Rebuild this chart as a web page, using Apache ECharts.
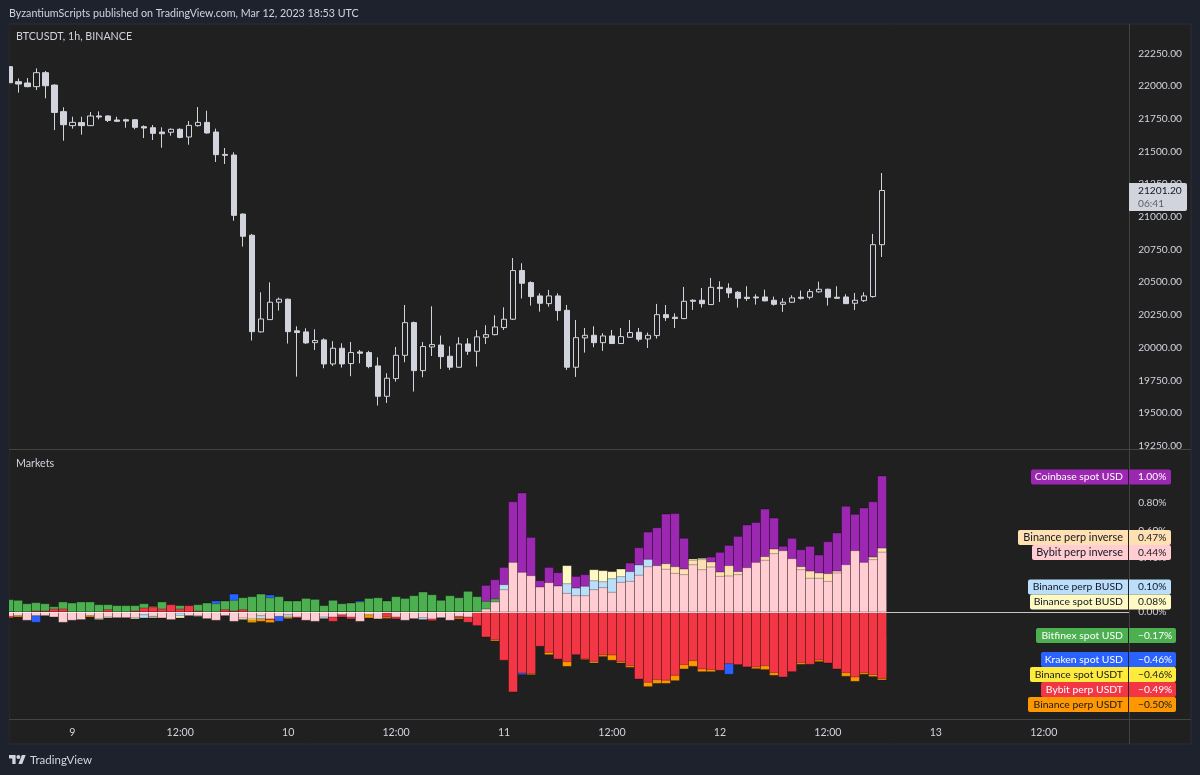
<!DOCTYPE html>
<html>
<head>
<meta charset="utf-8">
<script src="https://cdn.jsdelivr.net/npm/echarts@6/dist/echarts.min.js"></script>
<style>
  html, body { margin: 0; padding: 0; background: #1e222d; }
  #chart { width: 1200px; height: 775px; }
</style>
</head>
<body>
<div id="chart"></div>
<script>
const _ = null;

// hourly bars, [open, close, low, high]
const btcCandles = [
  [22148,22025,22025,22148],[22033,22015,21949,22058],[22023,21995,21990,22061],[21995,22102,21969,22135],[22102,22002,21906,22115],
  [22007,21798,21663,22013],[21804,21704,21582,21837],[21697,21722,21674,21765],[21720,21697,21628,21765],[21697,21771,21694,21801],
  [21771,21763,21745,21806],[21771,21737,21725,21776],[21740,21730,21727,21765],[21742,21732,21681,21750],[21742,21684,21669,21745],
  [21689,21679,21602,21699],[21681,21638,21587,21702],[21648,21635,21528,21684],[21646,21669,21620,21676],[21669,21607,21600,21676],
  [21610,21699,21551,21732],[21697,21722,21689,21839],[21722,21641,21635,21811],[21648,21475,21419,21674],[21477,21470,21404,21526],
  [21472,21011,20970,21493],[21021,20851,20772,21026],[20859,20122,20054,20869],[20120,20219,20115,20423],[20214,20347,20212,20499],
  [20347,20370,20283,20382],[20370,20122,20031,20375],[20128,20115,19778,20163],[20120,20036,20028,20148],[20038,20054,19982,20140],
  [20059,19875,19842,20071],[19875,19995,19860,20049],[19995,19875,19847,20033],[19878,19962,19781,20043],[19967,19957,19880,19982],
  [19962,19855,19842,19975],[19860,19628,19557,19926],[19628,19766,19577,19804],[19763,19941,19740,20005],[19941,20191,19888,20326],
  [20191,19824,19664,20199],[19824,20008,19773,20043],[20005,20023,19936,20316],[20020,19931,19837,20092],[19934,19850,19829,20010],
  [19850,20028,19845,20079],[20028,19972,19944,20071],[19972,20082,19855,20133],[20079,20099,20028,20171],[20099,20158,20094,20247],
  [20153,20217,20135,20308],[20217,20589,20211,20685],[20589,20492,20375,20645],[20497,20390,20321,20507],[20395,20339,20275,20415],
  [20336,20395,20313,20441],[20395,20283,20206,20415],[20285,19850,19829,20326],[19850,20076,19776,20211],[20074,20094,19962,20150],
  [20094,20038,20003,20163],[20038,20089,19975,20110],[20089,20031,20028,20135],[20031,20084,20028,20150],[20079,20115,20074,20211],
  [20117,20064,20046,20150],[20066,20094,19997,20115],[20092,20252,20069,20334],[20252,20229,20204,20326],[20232,20222,20150,20262],
  [20222,20354,20217,20464],[20362,20354,20288,20369],[20362,20336,20306,20456],[20329,20461,20326,20533],[20461,20451,20349,20507],
  [20454,20418,20380,20492],[20423,20377,20306,20433],[20385,20375,20357,20469],[20387,20380,20329,20408],[20387,20357,20354,20443],
  [20362,20331,20321,20390],[20331,20347,20273,20377],[20347,20380,20341,20400],[20385,20377,20367,20436],[20385,20428,20369,20448],
  [20426,20446,20420,20504],[20446,20385,20321,20451],[20385,20377,20375,20469],[20387,20336,20334,20408],[20339,20362,20288,20418],
  [20359,20395,20349,20423],[20390,20787,20382,20869],[20787,21201,20693,21335]
];

// premium of each market in %, one value per bar, _ where it can't be seen
const coinbaseSpotUsd = [
  _,_,_,_,_,_,_,_,_,_, _,_,_,_,_,_,_,_,_,_, _,_,_,_,_,_,_,_,_,_, _,_,_,_,_,_,_,_,_,_, _,_,_,_,_,_,_,_,_,_,
  _,_,_,.196,.238,.328,.811,.875,.549,.23,
  .328,.289,.267,.262,.275,.262,.282,_,.27,.36,
  .473,.588,.62,.721,.725,.542,_,_,.404,.439,
  .49,.556,.64,.659,.757,.691,.483,.542,.458,.483,
  .419,.517,.581,.777,.718,.765,.811,1.00
];
const binancePerpInverse = [
  _,_,_,_,_,_,_,_,_,_, _,_,_,_,_,_,_,_,_,_, _,_,_,_,_,_,_,_,_,_, _,_,_,_,_,_,_,_,_,_, _,_,_,_,_,_,_,_,_,_,
  _,_,_,_,_,_,_,_,_,_, _,_,_,_,_,_,_,_,_,_,
  _,_,_,.355,.333,.316,.38,.385,.368,.294,
  .341,.297,_,_,.407,.463,_,_,.333,.301,
  .287,.282,.301,_,_,_,.404,.47
];
const bybitPerpInverse = [
  -.032,-.027,-.061,-.027,-.027,-.037,-.076,-.061,-.056,-.027,
  -.049,-.037,-.042,-.042,-.042,-.02,-.032,-.044,-.056,-.007,
  -.027,-.027,-.049,-.061,-.027,-.069,-.044,-.051,-.027,-.051,
  -.032,-.02,-.037,-.061,-.069,-.037,-.037,-.02,-.037,-.069,
  -.02,-.051,-.007,-.037,-.061,-.049,-.042,-.051,-.042,-.061,
  -.032,-.037,_,.022,.074,.164,.365,.292,.267,.184,
  .216,.191,.137,.12,.12,.164,.179,.145,.218,.225,
  .27,.333,.341,.314,.284,.275,.348,.311,.331,.262,
  .265,.275,.326,.365,.38,.429,.451,.392,.311,.248,
  .248,.225,.287,.348,.451,.365,.385,.44
];
const binancePerpBusd = [
  _,_,_,_,_,_,_,_,_,_,
  _,_,_,_,_,-.044,-.037,_,_,-.027,
  _,_,_,_,_,_,_,_,-.049,_,
  _,-.037,_,_,_,-.049,_,_,_,_,
  _,_,_,_,_,_,-.056,_,_,_,
  _,_,.017,.054,_,.201,_,_,_,_,
  _,_,.208,.176,.189,.23,.223,.245,.26,.297,
  .346,.387,_,_,_,_,_,_,_,_,
  _,_,_,_,_,_,_,_,_,_,
  _,_,_,_,_,_,_,.10
];
const binanceSpotBusd = [
  _,_,_,_,_,_,_,_,_,_,
  -.056,-.044,_,_,-.051,_,-.044,_,_,-.044,
  _,-.032,_,_,_,_,-.056,_,_,_,
  _,_,_,_,_,_,_,_,_,_, _,_,_,_,_,_,_,_,_,_, _,_,_,_,_,_,_,_,_,_,
  _,_,.341,_,_,.311,.304,.297,.316,_,
  _,_,_,_,_,_,.39,.395,_,_,
  _,_,_,_,_,_,_,_,_,_,
  _,_,_,_,_,_,_,.08
];
const bitfinexSpotUsd = [
  .091,.086,.061,.069,.061,.039,.074,.066,.074,.074,
  .054,.054,.047,.047,.047,.061,.042,.074,_,.047,
  _,.054,.066,.061,.081,.086,.105,.113,.132,.105,
  .113,.081,.081,.1,.093,.047,.086,.061,.066,.074,
  .1,.105,.081,.113,.1,.12,.147,.127,.086,.12,
  .105,.152,.113,.078,.096,_,_,_,_,_,
  _,_,_,_,_,_,_,_,_,_, _,_,_,_,_,_,_,_,_,_, _,_,_,_,_,_,_,_,_,_,
  _,_,_,_,_,_,_,-.17
];
const krakenSpotUsd = [
  _,_,_,-.076,_,_,_,_,_,_,
  _,_,_,_,_,_,_,_,_,_,
  _,_,_,.081,_,.132,_,_,_,.125,
  -.069,_,_,_,_,_,_,_,_,.081,
  _,_,_,_,_,_,_,_,_,_,
  _,_,_,_,_,_,_,-.461,_,_,
  _,_,_,_,_,_,_,_,_,_, _,_,_,_,_,_,_,_,_,_,
  -.458,_,_,_,_,_,_,_,_,_,
  _,_,_,_,_,_,_,-.46
];
const binanceSpotUsdt = [
  _,_,_,_,_,_,_,_,_,_, _,_,_,_,_,_,_,_,_,_,
  _,_,_,_,_,_,_,-.064,_,_,
  _,_,_,_,_,_,_,_,_,_, _,_,_,_,_,_,_,_,_,_, _,_,_,_,_,_,_,_,_,_,
  _,_,_,_,_,_,_,_,_,_, _,_,_,_,_,_,_,_,_,_, _,_,_,_,_,_,_,_,_,_,
  _,_,_,_,_,_,_,-.46
];
const bybitPerpUsdt = [
  -.044,_,_,.007,.007,.022,.022,_,_,_,
  _,.017,_,_,.007,.029,.037,.022,.054,.022,
  .047,.007,_,_,.017,.007,.017,_,_,-.056,
  _,_,-.044,_,_,_,-.069,-.037,-.051,_,
  _,_,-.037,-.051,_,_,_,-.064,_,_,
  -.042,-.076,-.1,-.184,-.203,-.355,-.588,-.449,-.453,-.252,
  -.297,-.346,-.365,-.314,-.346,-.363,-.316,-.316,-.365,-.395,
  -.493,-.517,-.498,-.502,-.466,-.387,-.358,-.419,-.424,-.429,
  -.38,-.387,-.404,-.404,-.395,-.446,-.478,-.439,-.373,-.385,
  -.353,-.375,-.419,-.446,-.478,-.446,-.461,-.49
];
const binancePerpUsdt = [
  _,-.037,_,_,_,_,_,_,_,-.037,
  _,_,_,_,_,_,_,_,_,_,
  _,_,_,_,_,_,_,-.078,-.069,-.078,
  -.051,-.049,_,_,_,_,_,_,_,_,
  -.044,_,-.047,_,_,_,_,_,_,_,
  -.051,_,_,_,-.213,_,_,_,-.461,_,
  -.314,_,-.4,_,-.35,-.375,-.328,-.355,-.375,-.407,
  _,-.549,-.525,-.525,-.505,-.419,-.4,-.439,-.439,_,
  _,_,_,-.417,-.424,-.466,_,_,-.385,_,
  -.365,_,_,-.473,-.51,-.458,-.475,-.5
];

// layer: columns are painted in this fixed order, back to front
const markets = [
  { name: 'Coinbase spot USD',   values: coinbaseSpotUsd,    layer: 3, color: '#9c27b0', text: '#ffffff', size: 10.4, top: 469.5, left: 1031, right: 1171 },
  { name: 'Binance perp inverse', values: binancePerpInverse, layer: 5, color: '#ffe0b2', text: '#131722', size: 10.9, top: 530,   left: 1018, right: 1171 },
  { name: 'Bybit perp inverse',  values: bybitPerpInverse,   layer: 9, color: '#ffcdd2', text: '#131722', size: 10.9, top: 545,   left: 1032, right: 1171 },
  { name: 'Binance perp BUSD',   values: binancePerpBusd,    layer: 6, color: '#bbdefb', text: '#131722', size: 10.4, top: 579.5, left: 1028, right: 1171 },
  { name: 'Binance spot BUSD',   values: binanceSpotBusd,    layer: 4, color: '#fff9c4', text: '#131722', size: 10.4, top: 594.5, left: 1030, right: 1171 },
  { name: 'Bitfinex spot USD',   values: bitfinexSpotUsd,    layer: 7, color: '#4caf50', text: '#ffffff', size: 10.4, top: 628,   left: 1036, right: 1176 },
  { name: 'Kraken spot USD',     values: krakenSpotUsd,      layer: 1, color: '#2962ff', text: '#ffffff', size: 10.4, top: 652,   left: 1041, right: 1176 },
  { name: 'Binance spot USDT',   values: binanceSpotUsdt,    layer: 2, color: '#ffeb3b', text: '#131722', size: 10.4, top: 667,   left: 1030, right: 1176 },
  { name: 'Bybit perp USDT',     values: bybitPerpUsdt,      layer: 8, color: '#f23645', text: '#ffffff', size: 10.4, top: 682,   left: 1041, right: 1176 },
  { name: 'Binance perp USDT',   values: binancePerpUsdt,    layer: 0, color: '#ff9800', text: '#131722', size: 10.4, top: 697,   left: 1028, right: 1176 }
];

// 125 hourly slots, the 9th of March starts at slot 7
const dayLabels = ['9', '10', '11', '12', '13'];
const hours = [];
for (let i = 0; i < 125; i++) {
  const h = i - 7;
  if (h >= 0 && h % 24 === 0) hours.push(dayLabels[h / 24]);
  else if (h >= 0 && h % 12 === 0) hours.push('12:00');
  else hours.push('');
}

const FONT = 'Lato';
const PANEL = '#202020';
const PAGE = '#1e222d';
const TEXT = '#d1d4dc';
const LINE = '#434343';

function marketSeries(m, i) {
  const points = [];
  m.values.forEach(function (v, k) { if (v !== null) points.push([k, v]); });
  const s = {
    name: m.name,
    type: 'custom',
    xAxisIndex: 1,
    yAxisIndex: 1,
    data: points,
    encode: { x: 0, y: 1 },
    renderItem: function (params, api) {
      const v = api.value(1);
      const a = api.coord([api.value(0), 0]);
      const b = api.coord([api.value(0), v]);
      return {
        type: 'rect',
        z2: m.layer,
        shape: { x: Math.round(a[0] - 4) - 0.5, y: Math.min(a[1], b[1]), width: 9, height: Math.abs(a[1] - b[1]) },
        style: { fill: m.color, stroke: 'rgba(0,0,0,0.3)', lineWidth: 1 }
      };
    }
  };
  if (i === 0) {
    s.markLine = {
      silent: true, symbol: 'none', z: 20, animation: false,
      label: { show: false },
      lineStyle: { color: 'rgba(255,255,255,0.75)', width: 1, type: 'solid' },
      data: [{ yAxis: 0 }]
    };
  }
  return s;
}

function signed(v) {
  return (v < -1e-9 ? '\u2212' : '') + Math.abs(v).toFixed(2) + '%';
}

function tag(m) {
  const last = m.values[m.values.length - 1];
  const h = 15;
  return {
    type: 'group', z: 50,
    children: [
      { type: 'rect', z: 50, shape: { x: m.left, y: m.top, width: 1128 - m.left, height: h, r: [2, 0, 0, 2] }, style: { fill: m.color } },
      { type: 'rect', z: 50, shape: { x: 1129, y: m.top, width: m.right - 1129, height: h, r: [0, 2, 2, 0] }, style: { fill: m.color } },
      { type: 'text', z: 51, x: 1123, y: m.top + h / 2, style: { text: m.name, fill: m.text, font: m.size + 'px ' + FONT, textAlign: 'right', textVerticalAlign: 'middle' } },
      { type: 'text', z: 51, x: 1138, y: m.top + h / 2, style: { text: signed(last), fill: m.text, font: '10.2px ' + FONT, textAlign: 'left', textVerticalAlign: 'middle' } }
    ]
  };
}

const option = {
  animation: false,
  backgroundColor: PAGE,
  textStyle: { fontFamily: FONT },
  grid: [
    { left: 4.8, width: 1124.4, top: 53.3, height: 392.4 },
    { left: 4.8, width: 1124.4, top: 476, height: 217.6 }
  ],
  xAxis: [
    { type: 'category', gridIndex: 0, data: hours, show: false },
    {
      type: 'category', gridIndex: 1, data: hours,
      axisLine: { show: false }, axisTick: { show: false },
      axisLabel: {
        color: TEXT, fontSize: 10.6, margin: 33, fontFamily: FONT,
        interval: function (i, label) { return label !== ''; }
      }
    }
  ],
  yAxis: [
    {
      type: 'value', gridIndex: 0, position: 'right', min: 19250, max: 22250, interval: 250,
      splitLine: { show: false }, axisLine: { show: false }, axisTick: { show: false },
      axisLabel: { color: TEXT, fontSize: 10.2, margin: 9, fontFamily: FONT, formatter: function (v) { return v.toFixed(2); } }
    },
    {
      type: 'value', gridIndex: 1, position: 'right', min: -0.6, max: 1, interval: 0.2,
      splitLine: { show: false }, axisLine: { show: false }, axisTick: { show: false },
      axisLabel: { color: TEXT, fontSize: 10.2, margin: 9, fontFamily: FONT, formatter: function (v) { return signed(v); } }
    }
  ],
  series: [
    {
      name: 'BTCUSDT',
      type: 'candlestick',
      xAxisIndex: 0,
      yAxisIndex: 0,
      barWidth: 6,
      data: btcCandles,
      itemStyle: { color: PANEL, color0: TEXT, borderColor: TEXT, borderColor0: TEXT, borderWidth: 1 }
    }
  ].concat(markets.map(marketSeries)),
  graphic: [
    // panel and pane separators
    { type: 'rect', z: -10, shape: { x: 9, y: 24, width: 1182, height: 720 }, style: { fill: PANEL, stroke: '#2a2e39', lineWidth: 1 } },
    { type: 'rect', z: 40, shape: { x: 0, y: 0, width: 9, height: 775 }, style: { fill: PAGE } },
    { type: 'rect', z: 40, shape: { x: 1129, y: 24, width: 1, height: 720 }, style: { fill: LINE } },
    { type: 'rect', z: 40, shape: { x: 9, y: 449, width: 1182, height: 1 }, style: { fill: LINE } },
    { type: 'rect', z: 40, shape: { x: 9, y: 719, width: 1182, height: 1 }, style: { fill: LINE } },
    // header texts
    { type: 'text', z: 45, x: 9, y: 13.5, style: { text: 'ByzantiumScripts published on TradingView.com, Mar 12, 2023 18:53 UTC', fill: TEXT, font: '10.7px ' + FONT, textVerticalAlign: 'middle' } },
    { type: 'text', z: 45, x: 16, y: 36.5, style: { text: 'BTCUSDT, 1h, BINANCE', fill: TEXT, font: '10.7px ' + FONT, textVerticalAlign: 'middle' } },
    { type: 'text', z: 45, x: 16, y: 463.5, style: { text: 'Markets', fill: TEXT, font: '10.7px ' + FONT, textVerticalAlign: 'middle' } },
    // last price tag
    { type: 'rect', z: 50, shape: { x: 1129, y: 183, width: 58, height: 28, r: [0, 2, 2, 0] }, style: { fill: TEXT } },
    { type: 'text', z: 51, x: 1138, y: 190.5, style: { text: '21201.20', fill: '#131722', font: '10.2px ' + FONT, textVerticalAlign: 'middle' } },
    { type: 'text', z: 51, x: 1138, y: 203.5, style: { text: '06:41', fill: '#5d606b', font: '10.2px ' + FONT, textVerticalAlign: 'middle' } },
    // footer logo
    { type: 'polygon', z: 45, shape: { points: [[15.6, 764], [12.3, 764], [12.3, 758.5], [9, 758.5], [9, 755], [15.6, 755]] }, style: { fill: TEXT } },
    { type: 'polygon', z: 45, shape: { points: [[22.2, 764], [18.4, 764], [21.9, 755], [25.7, 755]] }, style: { fill: TEXT } },
    { type: 'circle', z: 45, shape: { cx: 18.4, cy: 757, r: 2 }, style: { fill: TEXT } },
    { type: 'text', z: 45, x: 30, y: 760, style: { text: 'TradingView', fill: TEXT, font: '11.5px ' + FONT, textVerticalAlign: 'middle' } }
  ].concat(markets.map(tag))
};

const chart = echarts.init(document.getElementById('chart'));
chart.setOption(option);
</script>
</body>
</html>
